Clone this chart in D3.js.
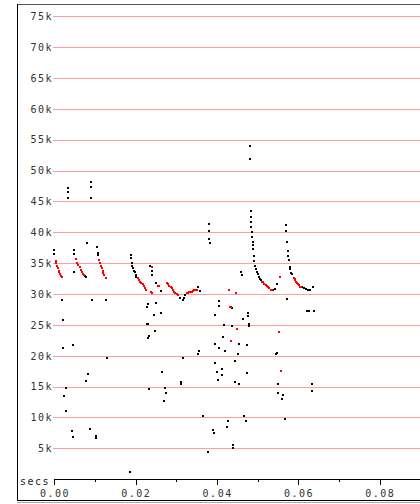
<!DOCTYPE html>
<html><head><meta charset="utf-8">
<script src="https://cdn.jsdelivr.net/npm/d3@7"></script>
<style>html,body{margin:0;padding:0;background:#fff;}svg{display:block;}</style>
</head><body>
<svg id="c" width="420" height="504"></svg>
<script>
// ticks
const yTicks = [5,10,15,20,25,30,35,40,45,50,55,60,65,70,75];          // thousands of bytes
const xMajorTicks = [0,0.02,0.04,0.06,0.08];                          // seconds
const xMinorTicks = [0.01,0.03,0.05,0.07,0.09];
const xLabel = "secs";

// series: [time (s), sequence value (k bytes)]
const redA = [[0.0003,35.4],[0.0005,35.0],[0.0007,34.6],[0.0009,34.2],[0.0011,33.8],[0.0012,33.5],[0.0014,33.2],[0.0016,32.9],[0.0018,32.7]];
const redB = [[0.0053,35.6],[0.0056,35.1],[0.0059,34.7],[0.0062,34.3],[0.0065,33.9],[0.0068,33.6],[0.0071,33.3],[0.0074,33.1]];
const redC = [[0.0110,35.5],[0.0112,35.0],[0.0115,34.6],[0.0117,34.2],[0.0119,33.8],[0.0121,33.4],[0.0123,33.0],[0.0126,32.6]];
const redD = [[0.0205,32.6],[0.0208,32.3],[0.0211,32.0],[0.0214,31.8],[0.0217,31.6],[0.0220,31.3],[0.0223,31.0],[0.0226,30.6],
  [0.0240,34.3],[0.0254,31.3],[0.0258,31.3],[0.0237,30.4],[0.0240,30.1]];
const redG = [[0.0277,31.8],[0.0280,31.6],[0.0283,31.3],[0.0286,31.1],[0.0289,30.9],[0.0292,30.6],[0.0295,30.4],[0.0298,30.2],[0.0302,30.0],[0.0305,29.8],
  [0.0326,30.1],[0.0329,30.2],[0.0332,30.3],[0.0335,30.4],[0.0338,30.4],[0.0341,30.5],[0.0344,30.6],[0.0347,30.6],[0.0350,30.7]];
const redMid = [[0.0430,30.7],[0.0447,30.1],[0.0432,27.9],[0.0435,27.9],[0.0449,24.3],[0.0434,22.4]];
const redE = [[0.0511,32.0],[0.0514,31.9],[0.0517,31.7],[0.0520,31.5],[0.0523,31.3],[0.0526,31.1],[0.0529,30.9],[0.0532,30.7],[0.0535,30.6]];
const redF = [[0.0589,32.6],[0.0591,32.4],[0.0593,32.2],[0.0595,32.0],[0.0597,31.8],[0.0600,31.6],[0.0602,31.4],[0.0604,31.2],[0.0606,31.1]];
const redLate = [[0.0554,32.7],[0.0553,23.9],[0.0558,17.5]];

const blackA = [[0,37.2],[0,36.4],[0.0018,29.0],[0.0021,25.8],[0.0022,21.3],[0.0045,21.8],[0.0030,14.8],[0.0025,13.5],[0.0030,11.0],[0.0043,7.8],[0.0045,6.8],[0.0034,47.2],[0.0034,46.5],[0.0034,45.6]];
const blackB = [[0.0049,37.2],[0.0049,36.5],[0.0049,33.6],[0.0076,32.9],[0.0079,32.8],[0.0081,38.2],[0.0093,29.0],[0.0091,48.1],[0.0091,47.3],[0.0091,45.6],[0.0082,17.0],[0.0078,15.9],[0.0088,8.2],[0.0103,7.0],[0.0103,6.7]];
const blackC = [[0.0106,37.6],[0.0108,36.7],[0.0108,36.3],[0.0127,29.0],[0.0130,19.6],[0.0185,1.2]];
const blackD = [[0.0188,36.3],[0.0188,35.9],[0.0190,35.1],[0.0192,34.6],[0.0194,34.2],[0.0196,33.8],[0.0198,33.5],[0.0200,33.1],[0.0202,32.8],
  [0.0235,34.5],[0.0241,33.7],[0.0241,33.1],[0.0250,31.8],[0.0263,30.5],[0.0227,27.9],[0.0231,28.4],[0.0250,28.6],[0.0246,26.6],[0.0263,26.9],
  [0.0227,25.1],[0.0231,25.1],[0.0248,24.0],[0.0234,23.2],[0.0231,22.8],[0.0316,19.6],[0.0356,20.7],[0.0353,20.3],[0.0266,17.3],[0.0312,15.7],
  [0.0311,15.5],[0.0234,14.6],[0.0272,14.8],[0.0275,13.9],[0.0271,12.6],[0.0365,10.2],[0.0378,4.4],[0.0308,29.4],[0.0316,29.0],[0.0319,29.4],
  [0.0322,29.8],[0.0354,31.1],[0.0358,30.5]];
const blackMid = [[0.0381,41.4],[0.0381,40.2],[0.0381,38.9],[0.0383,38.2],[0.0406,28.8],[0.0406,28.1],[0.0436,27.8],[0.0459,33.6],[0.0461,33.1],
  [0.0396,26.6],[0.0418,25.0],[0.0438,24.8],[0.0463,25.9],[0.0477,26.9],[0.0477,26.4],[0.0480,25.1],[0.0480,24.8],[0.0416,23.0],[0.0396,21.9],
  [0.0406,21.3],[0.0455,21.9],[0.0473,21.7],[0.0421,20.7],[0.0453,20.3],[0.0445,19.2],[0.0396,18.9],[0.0413,17.9],[0.0400,17.3],[0.0413,16.9],
  [0.0473,17.2],[0.0403,16.1],[0.0445,15.8],[0.0455,15.4],[0.0467,10.3],[0.0471,9.4],[0.0428,9.5],[0.0426,8.4],[0.0390,8.0],[0.0394,7.5],
  [0.0440,5.5],[0.0440,5.1],[0.0481,54.0],[0.0481,51.8]];
const blackE = [[0.0484,43.4],[0.0484,42.4],[0.0484,41.7],[0.0485,40.8],[0.0486,40.0],[0.0487,39.2],[0.0488,38.4],[0.0489,37.9],[0.0490,37.3],
  [0.0491,36.1],[0.0492,35.3],[0.0494,34.6],[0.0496,34.1],[0.0498,33.6],[0.0500,33.2],[0.0503,32.8],[0.0506,32.4],[0.0508,32.2],
  [0.0539,30.6],[0.0543,30.8],[0.0547,31.6]];
const blackF = [[0.0570,41.2],[0.0570,40.2],[0.0573,38.4],[0.0575,37.0],[0.0576,36.1],[0.0577,35.5],[0.0579,34.4],[0.0581,34.0],[0.0583,33.4],
  [0.0585,33.2],[0.0609,31.1],[0.0614,30.9],[0.0619,30.8],[0.0624,30.6],[0.0629,30.6],[0.0637,31.1],[0.0573,29.2],[0.0622,27.3],[0.0626,27.3],
  [0.0639,27.3],[0.0546,20.3],[0.0548,20.4],[0.0551,15.5],[0.0633,15.4],[0.0633,14.3],[0.0551,13.9],[0.0563,13.6],[0.0561,13.0],[0.0568,9.7]];

const blackPts = [].concat(blackA, blackB, blackC, blackD, blackMid, blackE, blackF);
const redPts = [].concat(redA, redB, redC, redD, redG, redMid, redE, redF, redLate);

const W = 420, H = 504;
const svg = d3.select('#c');
svg.append('rect').attr('width', W).attr('height', H).attr('fill', '#fff');

const x = d3.scaleLinear().domain([0, 0.09]).range([54.3, 420.15]);
const y = d3.scaleLinear().domain([0, 75]).range([479.2, 16.2]);
const FONT = "'DejaVu Sans Mono', 'Liberation Mono', monospace";

// gridlines + y labels
const gy = svg.append('g');
gy.selectAll('line').data(yTicks).join('line')
  .attr('x1', 53).attr('x2', W)
  .attr('y1', d => Math.round(y(d)) + 0.5).attr('y2', d => Math.round(y(d)) + 0.5)
  .attr('stroke', '#ff9c9c').attr('stroke-width', 1).attr('shape-rendering', 'crispEdges');
gy.selectAll('text').data(yTicks).join('text')
  .attr('x', 53).attr('y', d => y(d) + 3.8)
  .attr('text-anchor', 'end')
  .attr('font-family', FONT).attr('font-size', 10).attr('letter-spacing', '1.5px')
  .attr('fill', '#333')
  .text(d => d + 'k');

// x axis
const axY = 479.5;
const minorAxis = d3.axisBottom(x).tickValues(xMinorTicks).tickSize(3).tickSizeOuter(0).tickFormat('');
const majorAxis = d3.axisBottom(x).tickValues(xMajorTicks).tickSize(6).tickSizeOuter(0).tickFormat('');
const gMin = svg.append('g').attr('transform', `translate(0,${axY - 0.5})`).call(minorAxis);
const gMaj = svg.append('g').attr('transform', `translate(0,${axY - 0.5})`).call(majorAxis);
[gMin, gMaj].forEach(g => {
  g.select('.domain').remove();
  g.selectAll('line').attr('stroke', '#000').attr('shape-rendering', 'crispEdges');
});
svg.append('line').attr('x1', Math.round(x(0))).attr('x2', W).attr('y1', axY).attr('y2', axY)
  .attr('stroke', '#000').attr('shape-rendering', 'crispEdges');
svg.append('g').selectAll('text').data(xMajorTicks).join('text')
  .attr('x', d => x(d) + 0.75).attr('y', 497)
  .attr('text-anchor', 'middle')
  .attr('font-family', FONT).attr('font-size', 10).attr('letter-spacing', '1.5px')
  .attr('fill', '#333')
  .text(d => d3.format('.2f')(d));
svg.append('text').attr('x', 20).attr('y', 484.5)
  .attr('font-family', FONT).attr('font-size', 10).attr('letter-spacing', '1.5px')
  .attr('fill', '#222').text(xLabel);

// points
svg.append('g').selectAll('rect').data(blackPts).join('rect')
  .attr('x', d => Math.round(x(d[0])) - 1).attr('y', d => Math.round(y(d[1])) - 1)
  .attr('width', 2).attr('height', 2).attr('fill', '#000');
svg.append('g').selectAll('rect').data(redPts).join('rect')
  .attr('x', d => Math.round(x(d[0])) - 1).attr('y', d => Math.round(y(d[1])) - 1)
  .attr('width', 2).attr('height', 2).attr('fill', '#ff0000');

// frame
const fr = svg.append('g').attr('shape-rendering', 'crispEdges');
fr.append('line').attr('x1', 17).attr('x2', W).attr('y1', 4.5).attr('y2', 4.5).attr('stroke', '#555');
fr.append('line').attr('x1', 17.5).attr('x2', 17.5).attr('y1', 4).attr('y2', 501).attr('stroke', '#000').attr('stroke-width', 1.5);
fr.append('line').attr('x1', 17).attr('x2', W).attr('y1', 500.5).attr('y2', 500.5).attr('stroke', '#000');
fr.append('line').attr('x1', 17).attr('x2', W).attr('y1', 502.5).attr('y2', 502.5).attr('stroke', '#aaa');
</script>
</body></html>
